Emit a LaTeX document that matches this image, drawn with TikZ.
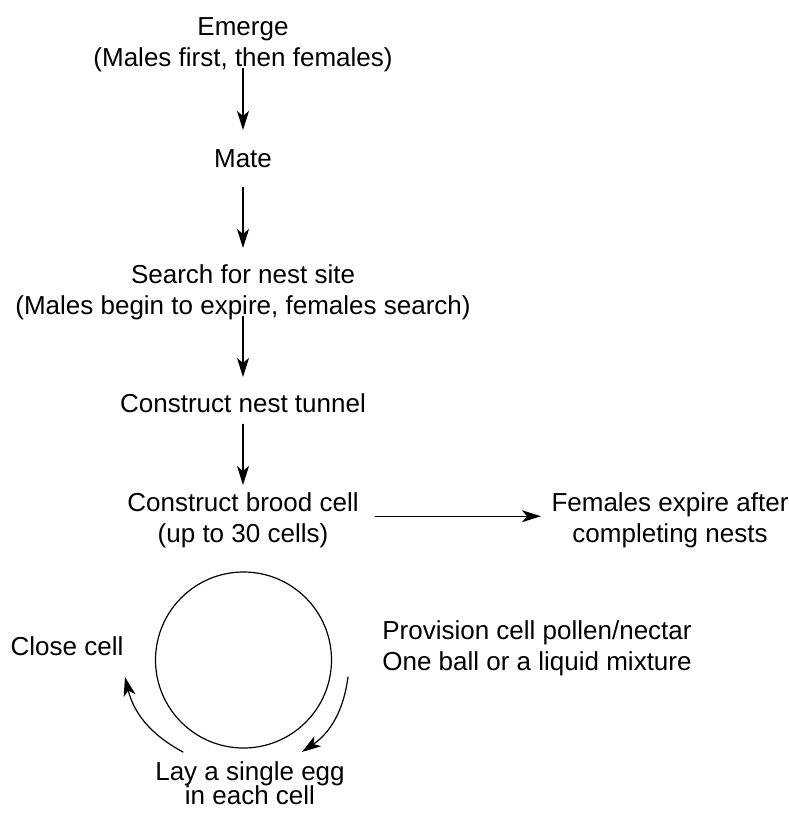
\documentclass[tikz,border=0pt]{standalone}
\usepackage{fontspec}
\setmainfont{Liberation Sans}
\usetikzlibrary{arrows.meta}
\begin{document}
\begin{tikzpicture}[x=1pt, y=-1pt, font={\fontsize{26}{31}\selectfont}, line join=round, line cap=round, line width=1.2pt, >={Stealth[length=19pt,width=12pt,inset=5pt]},
	lbl/.style={inner sep=0pt, anchor=north, align=center}]
	\useasboundingbox (0,0) rectangle (789,814);
	\node[lbl] (emerge) at (243,17) {Emerge\\(Males first, then females)};
	\node[lbl] (mate) at (243,149) {Mate};
	\node[lbl] (search) at (243,264) {Search for nest site\\(Males begin to expire, females search)};
	\node[lbl] (tunnel) at (243,393) {Construct nest tunnel};
	\node[lbl] (brood) at (243,492) {Construct brood cell\\(up to 30 cells)};
	\node[lbl] (expire) at (670,492) {Females expire after\\completing nests};
	\node[lbl] (provision) at (537,620) {Provision cell pollen/nectar\\One ball or a liquid mixture};
	\node[lbl] (close) at (67,636) {Close cell};
	\node[lbl] (egg) at (250,761) {Lay a single egg\\[-7pt]in each cell};
	\draw[->, shorten <=-4pt, shorten >=19pt] (emerge.south) -- (mate.north);
	\draw[->, shorten <=19pt, shorten >=16pt] (mate.south) -- (search.north);
	\draw[->, shorten <=-4pt, shorten >=16pt] (search.south) -- (tunnel.north);
	\draw[->, shorten <=11pt, shorten >=7pt] (tunnel.south) -- (brood.north);
	\draw[->, shorten <=16pt, shorten >=10pt] ([yshift=4pt]brood.east) -- ([yshift=4pt]expire.west);
	\coordinate (ctr) at (243.5,660);
	\draw (ctr) circle (88pt);
	\coordinate (r1) at (348,677);
	\coordinate (r2) at (302,752);
	\coordinate (l1) at (183,752);
	\coordinate (l2) at (125,677);
	\draw[->] (r1) to[bend left=24] (r2);
	\draw[->] (l1) to[bend left=24] (l2);
\end{tikzpicture}
\end{document}
